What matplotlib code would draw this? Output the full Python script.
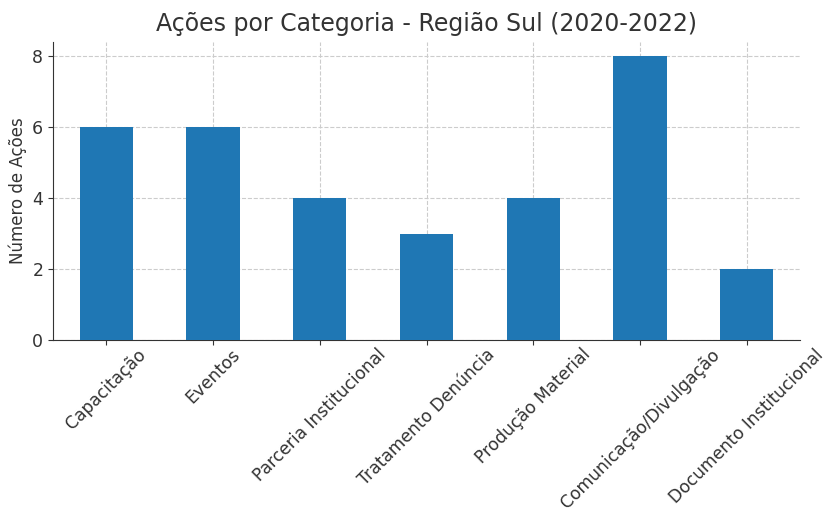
import matplotlib
matplotlib.use("Agg")
import matplotlib.pyplot as plt
import numpy as np

categorias = ["Capacitação", "Eventos", "Parceria Institucional",
              "Tratamento Denúncia", "Produção Material",
              "Comunicação/Divulgação", "Documento Institucional"]
acoes = [6, 6, 4, 3, 4, 8, 2]
yticks = [0, 2, 4, 6, 8]

plt.rcParams["text.color"] = "#333333"
plt.rcParams["axes.labelcolor"] = "#333333"
plt.rcParams["xtick.color"] = "#333333"
plt.rcParams["ytick.color"] = "#333333"
plt.rcParams["axes.edgecolor"] = "#333333"

fig = plt.figure(figsize=(8.26, 5.13), dpi=100)
ax = fig.add_axes([53/826, 1 - 340/513, 747/826, 298/513])

x = np.arange(len(categorias))
ax.bar(x, acoes, width=0.5, color="#1f77b4", zorder=3)
ax.set_xlim(-0.5, len(categorias) - 0.5)
ax.set_ylim(0, max(acoes) * 1.05)
ax.set_xticks(x)
ax.set_xticklabels(categorias, rotation=45, ha="center", fontsize=12.3)
ax.tick_params(axis="x", pad=0.5)
ax.set_yticks(yticks)
ax.tick_params(axis="y", labelsize=12.5)
ax.set_ylabel("Número de Ações", fontsize=12)
ax.set_title("Ações por Categoria - Região Sul (2020-2022)", fontsize=17, pad=8)
ax.grid(True, linestyle="--", color="#cccccc", linewidth=0.8, zorder=0)
ax.spines["top"].set_visible(False)
ax.spines["right"].set_visible(False)

fig.savefig("out.png", dpi=100)
